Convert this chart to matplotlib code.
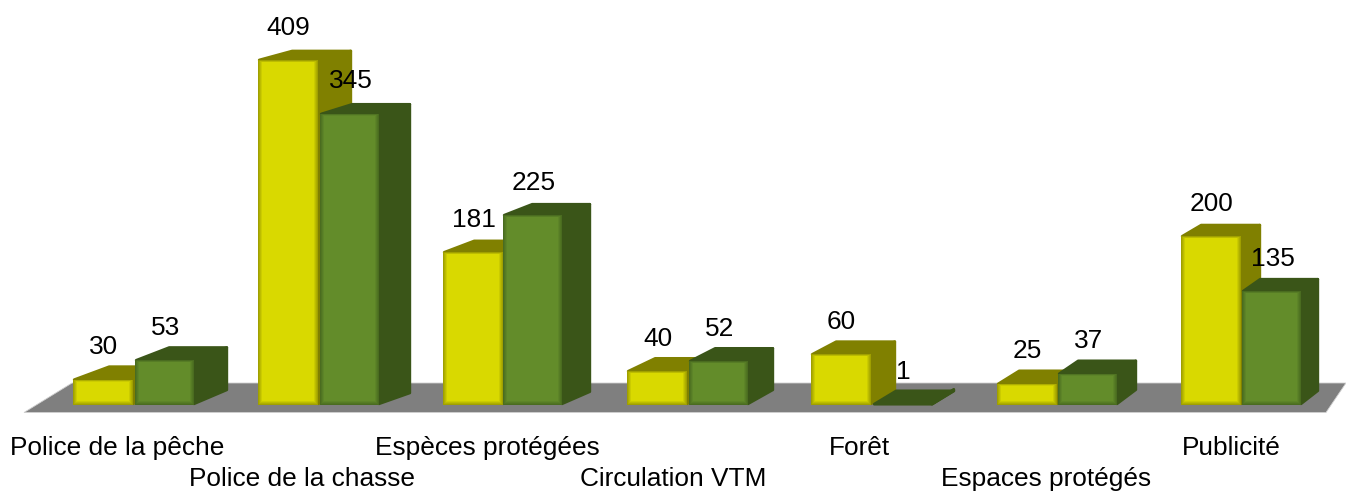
"""
Histogramme pseudo-3D : infractions par domaine.
"""

import matplotlib.pyplot as plt
from matplotlib.colors import to_hex, to_rgb
from matplotlib.patches import Polygon

plt.rcParams["font.family"] = ["Liberation Sans", "DejaVu Sans"]

categories = [
    "Police de la pêche",
    "Police de la chasse",
    "Espèces protégées",
    "Circulation VTM",
    "Forêt",
    "Espaces protégés",
    "Publicité",
]
serie_jaune = [30, 409, 181, 40, 60, 25, 200]
serie_verte = [53, 345, 225, 52, 1, 37, 135]

WIDTH, HEIGHT = 1346, 492
BASE_Y = 405  # pixel du zéro
PX_PER_UNIT = 0.8435
FONT_SIZE = 18.9

# Position gauche des barres et profondeur (la perspective diminue vers la droite)
left_jaune = [73, 258, 443, 627, 811, 997, 1181]
left_verte = [135, 320, 503, 689, 873, 1058, 1242]
depth_x = [35, 33, 30, 27, 24, 21, 19]
label_x = [117, 302, 487, 673, 859, 1046, 1231]
label_y = [448, 479]


def px(y_pixel):
    """Pixel vertical -> valeur de l'axe."""
    return (BASE_Y - y_pixel) / PX_PER_UNIT


def mix(c1, c2, t):
    a, b = to_rgb(c1), to_rgb(c2)
    return to_hex([x * (1 - t) + y * t for x, y in zip(a, b)])


def draw_bar(ax, left, width, value, dx, colors):
    face, edge, side = colors
    dy = 14.5 - value * PX_PER_UNIT / 80
    dy_val = dy / PX_PER_UNIT
    right = left + width
    r = 1.2  # léger arrondi des arêtes
    r_val = r / PX_PER_UNIT

    # Faces supérieure et latérale
    top = [(left + r, value), (left + dx + r, value + dy_val - r_val),
           (right + dx - r + 1, value + dy_val - r_val), (right, value)]
    flank = [(right, r_val), (right + dx - r + 1, dy_val + r_val),
             (right + dx - r + 1, value + dy_val - r_val), (right, value)]
    for pts in (top, flank):
        ax.add_patch(Polygon(pts, closed=True, facecolor=side, edgecolor=side,
                             linewidth=2, joinstyle="round"))

    # Face avant avec un biseau sombre sur les bords
    height_px = value * PX_PER_UNIT
    if height_px <= 6:
        return
    steps = [(0, 1.0), (1, 0.75), (2, 0.5), (3, 0.25), (4, 0.0)]
    for inset, t in steps:
        inset_val = inset / PX_PER_UNIT
        ax.bar(left + inset, value - inset_val * 1.5, bottom=inset_val,
               width=width - 2 * inset, align="edge",
               color=mix(face, edge, t), linewidth=0)


def main():
    fig = plt.figure(figsize=(WIDTH / 100, HEIGHT / 100), dpi=100)
    ax = fig.add_axes([0, 0, 1, 1])
    ax.set_xlim(0, WIDTH)
    ax.set_ylim(px(HEIGHT), px(0))
    ax.axis("off")

    # Sol
    floor = [(24, px(412.5)), (72, px(383)), (1346, px(383)), (1326, px(412.5))]
    ax.add_patch(Polygon(floor, closed=True, facecolor="#7f7f7f",
                         edgecolor="#d0d0d0", linewidth=0.6))

    jaune = ("#d9d900", "#a0a000", "#808000")
    verte = ("#638c2a", "#4a6c20", "#3a5518")

    for i in range(len(categories)):
        draw_bar(ax, left_jaune[i], 60, serie_jaune[i], depth_x[i], jaune)
        draw_bar(ax, left_verte[i], 59, serie_verte[i], depth_x[i] - 2, verte)

    for i, name in enumerate(categories):
        ax.text(left_jaune[i] + 30.5, serie_jaune[i] + 32.5 / PX_PER_UNIT,
                str(serie_jaune[i]), fontsize=FONT_SIZE, ha="center", va="center",
                color="black", zorder=5)
        ax.text(left_verte[i] + 30.5, serie_verte[i] + 32.5 / PX_PER_UNIT,
                str(serie_verte[i]), fontsize=FONT_SIZE, ha="center", va="center",
                color="black", zorder=5)
        ax.text(label_x[i], px(label_y[i % 2]), name, fontsize=FONT_SIZE,
                ha="center", va="center", color="black", zorder=5)

    fig.savefig("out.png", dpi=100)
    plt.close("all")


if __name__ == "__main__":
    main()
